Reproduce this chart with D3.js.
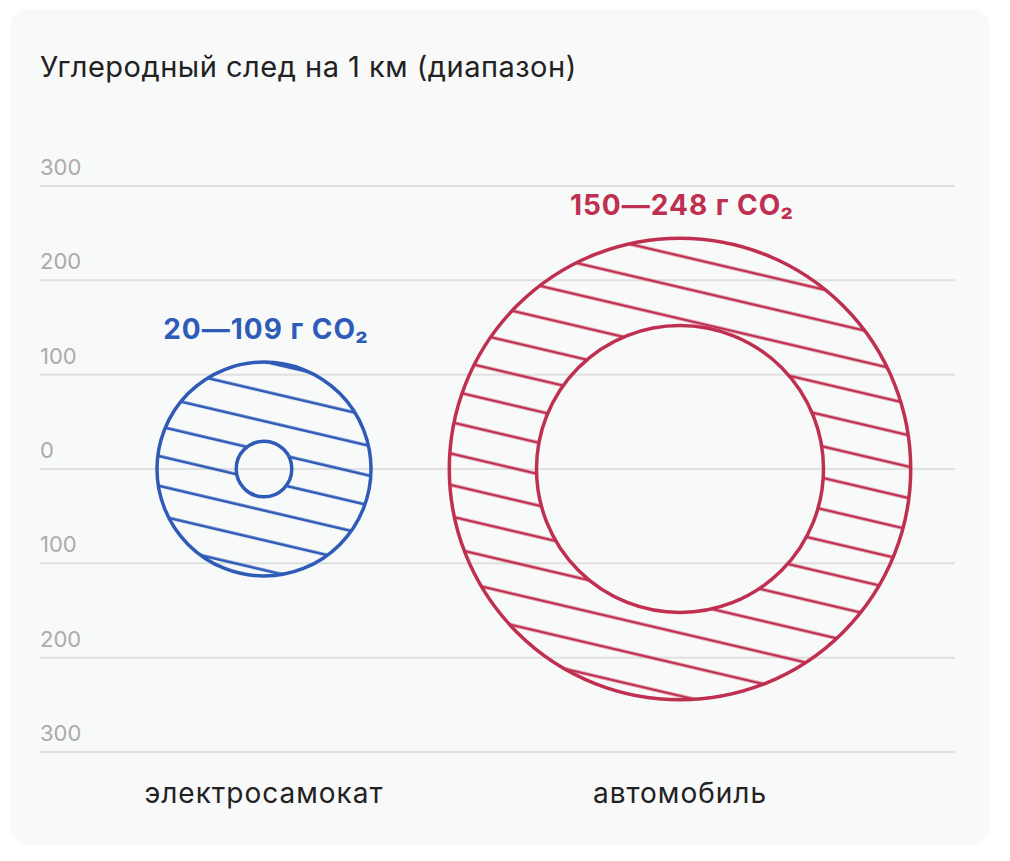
<!DOCTYPE html>
<html>
<head>
<meta charset="utf-8">
<script src="https://cdn.jsdelivr.net/npm/d3@7"></script>
<style>
  body { margin: 0; background: #fff; font-family: Inter, "Noto Sans", sans-serif; }
</style>
</head>
<body>
<div id="container"></div>
<script>
var categories = ["электросамокат", "автомобиль"];
var minValues = [20, 150];
var maxValues = [109, 248];
var yTicks = [300, 200, 100, 0, -100, -200, -300];
var colors = ["#2f5bb8", "#bf2f50"];
var title = "Углеродный след на 1 км (диапазон)";

var W = 1010, H = 861;

var svg = d3.select("#container")
  .append("svg")
    .attr("width", W)
    .attr("height", H);

// card
svg.append("rect")
  .attr("x", 10).attr("y", 9)
  .attr("width", 980).attr("height", 836)
  .attr("rx", 18)
  .attr("fill", "#f8f9f9");

svg.append("text")
  .attr("x", 40).attr("y", 77)
  .attr("font-size", 29)
  .attr("letter-spacing", 0.5)
  .attr("fill", "#222")
  .text(title);

var y = d3.scaleLinear()
  .domain([-300, 300])
  .range([752, 186]);

var x = d3.scaleBand()
  .domain(categories)
  .range([56, 888]);

var r = d3.scaleLinear()
  .domain([0, 300])
  .range([10, 277]);

// grid
var grid = svg.append("g");
grid.selectAll("line")
  .data(yTicks)
  .enter()
  .append("line")
  .attr("x1", 40).attr("x2", 955)
  .attr("y1", function(d) { return y(d) })
  .attr("y2", function(d) { return y(d) })
  .attr("stroke", "#e0e0e0")
  .attr("stroke-width", 2);

grid.selectAll("text")
  .data(yTicks)
  .enter()
  .append("text")
  .attr("x", 40)
  .attr("y", function(d) { return y(d) - 11 })
  .attr("font-size", 22)
  .attr("fill", "#ababab")
  .text(function(d) { return Math.abs(d) });

// hatch patterns, one per series
var spacing = [29, 30.6];
var phase = [1.7, 2.0];
var defs = svg.append("defs");
categories.forEach(function(c, i) {
  var p = defs.append("pattern")
    .attr("id", "hatch" + i)
    .attr("patternUnits", "userSpaceOnUse")
    .attr("width", 20)
    .attr("height", spacing[i])
    .attr("patternTransform", "rotate(13.2)");
  p.append("line")
    .attr("x1", -2).attr("x2", 22)
    .attr("y1", phase[i]).attr("y2", phase[i])
    .attr("stroke", colors[i])
    .attr("stroke-width", 2.8);
});

var data = categories.map(function(c, i) {
  return { name: c, min: minValues[i], max: maxValues[i], i: i };
});

var cy = y(0);

function circlePath(cx, cy, rad) {
  return "M" + (cx - rad) + "," + cy +
    "a" + rad + "," + rad + " 0 1,0 " + (2 * rad) + ",0" +
    "a" + rad + "," + rad + " 0 1,0 " + (-2 * rad) + ",0Z";
}

var g = svg.selectAll(".item")
  .data(data)
  .enter()
  .append("g")
  .attr("class", "item");

g.append("path")
  .attr("d", function(d) {
    var cx = x(d.name) + x.bandwidth() / 2;
    return circlePath(cx, cy, r(d.max)) + circlePath(cx, cy, r(d.min));
  })
  .attr("fill-rule", "evenodd")
  .attr("fill", function(d) { return "url(#hatch" + d.i + ")" });

g.append("circle")
  .attr("cx", function(d) { return x(d.name) + x.bandwidth() / 2 })
  .attr("cy", cy)
  .attr("r", function(d) { return r(d.max) })
  .attr("fill", "none")
  .attr("stroke", function(d) { return colors[d.i] })
  .attr("stroke-width", 3.5);

g.append("circle")
  .attr("cx", function(d) { return x(d.name) + x.bandwidth() / 2 })
  .attr("cy", cy)
  .attr("r", function(d) { return r(d.min) })
  .attr("fill", "none")
  .attr("stroke", function(d) { return colors[d.i] })
  .attr("stroke-width", 3.5);

g.append("text")
  .attr("x", function(d) { return x(d.name) + x.bandwidth() / 2 + 2 })
  .attr("y", function(d) { return cy - r(d.max) - 23 })
  .attr("text-anchor", "middle")
  .attr("font-size", 28)
  .attr("font-weight", 700)
  .attr("letter-spacing", 1)
  .attr("fill", function(d) { return colors[d.i] })
  .text(function(d) { return d.min + "—" + d.max + " г CO₂" });

g.append("text")
  .attr("x", function(d) { return x(d.name) + x.bandwidth() / 2 })
  .attr("y", 803)
  .attr("text-anchor", "middle")
  .attr("font-size", 28)
  .attr("letter-spacing", 1)
  .attr("fill", "#222")
  .text(function(d) { return d.name });
</script>
</body>
</html>
